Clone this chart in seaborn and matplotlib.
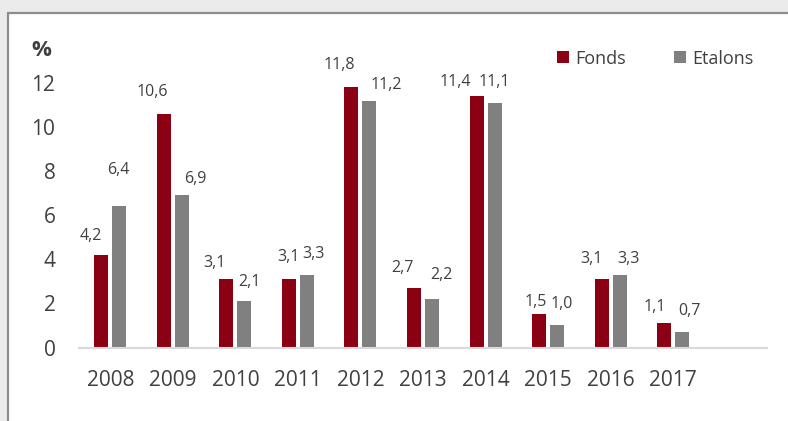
import matplotlib
matplotlib.use("Agg")
import matplotlib.pyplot as plt
from matplotlib.patches import Rectangle
import seaborn as sns
import pandas as pd

# ---- data ----
years = ["2008", "2009", "2010", "2011", "2012", "2013", "2014", "2015", "2016", "2017"]
fonds = [4.2, 10.6, 3.1, 3.1, 11.8, 2.7, 11.4, 1.5, 3.1, 1.1]
etalons = [6.4, 6.9, 2.1, 3.3, 11.2, 2.2, 11.1, 1.0, 3.3, 0.7]
series_names = ["Fonds", "Etalons"]
y_ticks = [0, 2, 4, 6, 8, 10, 12]

# label offsets (pixels, relative to bar top centre) as in the reference
fonds_lbl_dx = [-10, -12, -12, 0, -12, -12, -21, -3, -10, -9]
fonds_lbl_dy = [19, 22, 16, 22, 22, 20, 14, 12, 20, 16]
etal_lbl_dx = [-1, 13, 5, 7, 17, 9, 0, 5, 9, 7]
etal_lbl_dy = [36, 16, 19, 21, 16, 24, 21, 21, 16, 21]

colors = {"Fonds": "#8B0012", "Etalons": "#808080"}
txt = "#404040"

df = pd.DataFrame({
    "year": years * 2,
    "series": [series_names[0]] * len(years) + [series_names[1]] * len(years),
    "value": fonds + etalons,
})

sns.set_theme(style="white")
plt.rcParams["font.family"] = ["Open Sans", "DejaVu Sans"]

W, H = 788, 421
fig = plt.figure(figsize=(W / 100, H / 100), dpi=100)
fig.patch.set_facecolor("#ebebeb")
fig.add_artist(Rectangle((8 / W, -0.05), 1.1, (H - 13) / H + 0.05,
                         transform=fig.transFigure, facecolor="white",
                         edgecolor="#8c8c8c", linewidth=1.6, zorder=0))

ax = fig.add_axes([79 / W, 73.5 / H, (767 - 79) / W, (360.1 - 73.5) / H])
ax.set_facecolor("none")

sns.barplot(data=df, x="year", y="value", hue="series", order=years,
            hue_order=series_names, palette=colors, width=0.576, gap=0.222,
            saturation=1, linewidth=0, ax=ax)

ax.set_xlim(-0.5, 10.5)
ax.set_ylim(0, 13)
ax.set_yticks(y_ticks)
ax.set_yticklabels([str(t) for t in y_ticks])
ax.set_xlabel("")
ax.set_ylabel("")
for s in ["top", "right", "left"]:
    ax.spines[s].set_visible(False)
ax.spines["bottom"].set_color("#d9d9d9")
ax.spines["bottom"].set_linewidth(1.5)
ax.tick_params(axis="x", length=0, pad=16, labelsize=15, labelcolor=txt)
ax.tick_params(axis="y", length=0, pad=17, labelsize=15, labelcolor=txt)

# data labels
for cont, vals, dxs, dys in [(ax.containers[0], fonds, fonds_lbl_dx, fonds_lbl_dy),
                             (ax.containers[1], etalons, etal_lbl_dx, etal_lbl_dy)]:
    for bar, v, dx, dy in zip(cont, vals, dxs, dys):
        xc = bar.get_x() + bar.get_width() / 2
        ax.annotate(f"{v:.1f}".replace(".", ","), (xc, bar.get_height()),
                    xytext=(dx, dy), textcoords="offset pixels",
                    ha="center", va="center", fontsize=11.5, color=txt)

# "%" unit label
fig.text(41.5 / W, 1 - 50 / H, "%", ha="center", va="center", fontsize=16,
         fontweight="bold", color=txt)

# legend
handles, labels = ax.get_legend_handles_labels()
ax.legend(handles, labels, ncol=2, frameon=False, loc="center left",
          bbox_to_anchor=(557 / W, 1 - 58.5 / H), bbox_transform=fig.transFigure,
          handlelength=0.65, handleheight=0.65, handletextpad=0.35,
          columnspacing=2.7, borderpad=0, borderaxespad=0,
          prop={"size": 13}, labelcolor=txt)

fig.savefig("out.png", dpi=100, facecolor=fig.get_facecolor())
